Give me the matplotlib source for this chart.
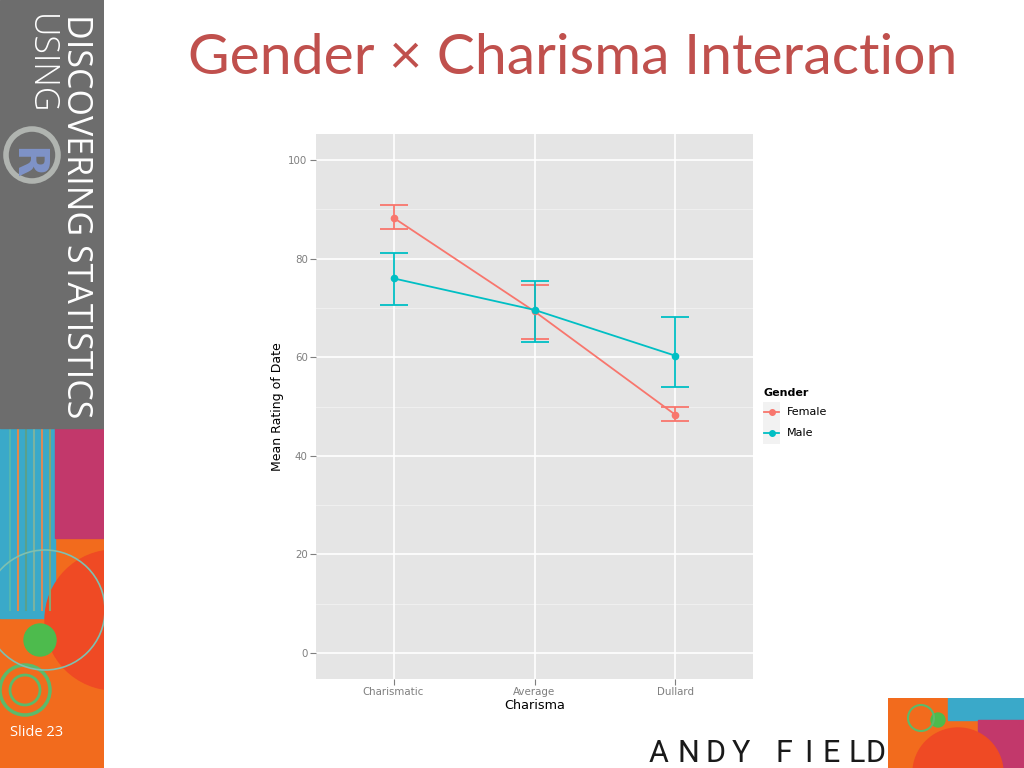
import matplotlib.pyplot as plt
from matplotlib.patches import Rectangle, Circle, Wedge
import numpy as np

# data
charisma = ['Charismatic', 'Average', 'Dullard']
female_mean = [88.3, 69.3, 48.3]
female_lo = [86.0, 63.6, 47.0]
female_hi = [90.8, 74.6, 49.9]
male_mean = [76.0, 69.6, 60.3]
male_lo = [70.6, 63.1, 53.9]
male_hi = [81.2, 75.5, 68.2]
yticks = [0, 20, 40, 60, 80, 100]

col_f = '#F8766D'
col_m = '#00BFC4'

W, H = 1024, 768
fig = plt.figure(figsize=(W / 100, H / 100), dpi=100)
fig.patch.set_facecolor('white')


def px_axes(x0, y0, x1, y1, **kw):
    # axes from pixel box (top-left origin)
    return fig.add_axes([x0 / W, 1 - y1 / H, (x1 - x0) / W, (y1 - y0) / H], **kw)


# --- left sidebar ---
side = px_axes(0, 0, 104, 768)
side.set_xlim(0, 104)
side.set_ylim(768, 0)
side.axis('off')
side.add_patch(Rectangle((0, 428), 104, 340, color='#f26b1d', zorder=0))
side.add_patch(Rectangle((0, 428), 55, 190, color='#3aa9c9', zorder=1))
side.add_patch(Rectangle((55, 428), 49, 110, color='#c2386b', zorder=1))
for xx, cc in [(10, '#54b6b0'), (18, '#e0894b'), (26, '#5aa08a'), (34, '#7bb3a0'),
               (42, '#d98a5a'), (50, '#8aa470')]:
    side.plot([xx, xx], [428, 610], color=cc, lw=1.5, zorder=2)
side.add_patch(Wedge((115, 620), 70, 90, 270, color='#ef4a24', zorder=1.5))
side.add_patch(Circle((40, 640), 16, color='#4dbb4d', zorder=3))
side.add_patch(Circle((25, 690), 25, fill=False, ec='#5cba6a', lw=2.5, zorder=3))
side.add_patch(Circle((25, 690), 15, fill=False, ec='#5cba6a', lw=2, zorder=3))
side.add_patch(Circle((45, 610), 60, fill=False, ec='#7fc0b0', lw=1.2, zorder=3))
side.add_patch(Rectangle((0, 0), 104, 428, color='#6d6d6d', zorder=4))
side.text(76, 14, 'DISCOVERING STATISTICS', rotation=-90, color='white',
          fontsize=24.5, family='Open Sans', ha='center', va='top', zorder=5)
side.text(40, 14, 'USING', rotation=-90, color='white', fontsize=24.5,
          family='Open Sans', fontweight='light', ha='center', va='top', zorder=5)
side.add_patch(Circle((32, 155), 26, fill=False, ec='#b0b4b0', lw=4, zorder=5))
side.text(26, 163, 'R', color='#7f93c8', fontsize=30, fontweight='bold',
          rotation=-90, ha='center', va='center', zorder=6)
side.text(10, 733, 'Slide 23', color='white', fontsize=10.5, family='Open Sans',
          ha='left', va='center', zorder=6)

# --- bottom right logo ---
logo = px_axes(888, 698, 1024, 768)
logo.set_xlim(0, 136)
logo.set_ylim(70, 0)
logo.axis('off')
logo.add_patch(Rectangle((0, 0), 136, 70, color='#f26b1d'))
logo.add_patch(Rectangle((60, 0), 76, 22, color='#3aa9c9'))
logo.add_patch(Rectangle((90, 22), 46, 48, color='#c2386b'))
logo.add_patch(Circle((70, 75), 45, color='#ef4a24'))
logo.add_patch(Circle((50, 22), 7, color='#4dbb4d'))
logo.add_patch(Circle((33, 20), 13, fill=False, ec='#5cba6a', lw=1.5))

name_letters = list('ANDYFIELD')
name_x = [659, 688, 715, 741, 784, 808, 831, 857, 876]
for ch, xc in zip(name_letters, name_x):
    fig.text(xc / W, 1 - 762 / H, ch, fontsize=22, family='Roboto',
             color='#1a1a1a', ha='center', va='baseline')

# --- title ---
fig.text(573 / W, 1 - 74 / H, 'Gender \u00d7 Charisma Interaction', fontsize=41,
         family='Lato', color='#c0504d', ha='center', va='baseline')

# --- main plot (ggplot look) ---
ax = px_axes(316, 134, 753, 679)
ax.set_facecolor('#e5e5e5')
x = np.arange(1, len(charisma) + 1)
ax.set_xlim(0.45, 3.55)
ax.set_ylim(-5.3, 105.3)
for yy in range(10, 101, 20):
    ax.axhline(yy, color='#f2f2f2', lw=0.6, zorder=0.5)
for yy in yticks:
    ax.axhline(yy, color='white', lw=1.2, zorder=0.6)
for xx in x:
    ax.axvline(xx, color='white', lw=1.2, zorder=0.6)

for mean, lo, hi, c in [(female_mean, female_lo, female_hi, col_f),
                        (male_mean, male_lo, male_hi, col_m)]:
    mean = np.array(mean)
    err = [mean - np.array(lo), np.array(hi) - mean]
    ax.errorbar(x, mean, yerr=err, fmt='none', ecolor=c, elinewidth=1.3,
                capsize=10, capthick=1.3, zorder=2)
    ax.plot(x, mean, '-o', color=c, lw=1.3, ms=4.5, zorder=3)

ax.set_xticks(x)
ax.set_xticklabels(charisma)
ax.set_yticks(yticks)
for s in ax.spines.values():
    s.set_visible(False)
ax.tick_params(colors='#7f7f7f', labelcolor='#7f7f7f', labelsize=7.4,
               length=4, width=0.8, pad=2)
ax.set_xlabel('Charisma', fontsize=9.2, color='black', labelpad=1)
ax.set_ylabel('Mean Rating of Date', fontsize=9, color='black', labelpad=3)

# --- legend ---
leg = px_axes(763, 402, 780, 444)
leg.set_xlim(0, 17)
leg.set_ylim(42, 0)
leg.axis('off')
leg.add_patch(Rectangle((0, 0), 17, 20.5, color='#f2f2f2'))
leg.add_patch(Rectangle((0, 21.5), 17, 20.5, color='#f2f2f2'))
leg.plot([1, 16], [10, 10], '-', color=col_f, lw=1.3)
leg.plot([1, 16], [31, 31], '-', color=col_m, lw=1.3)
leg.plot([8.5], [10], 'o', color=col_f, ms=4)
leg.plot([8.5], [31], 'o', color=col_m, ms=4)
fig.text(763 / W, 1 - 393 / H, 'Gender', fontsize=8, fontweight='bold',
         ha='left', va='center')
fig.text(787 / W, 1 - 412 / H, 'Female', fontsize=8, ha='left', va='center')
fig.text(787 / W, 1 - 433 / H, 'Male', fontsize=8, ha='left', va='center')

fig.savefig('out.png', dpi=100)
